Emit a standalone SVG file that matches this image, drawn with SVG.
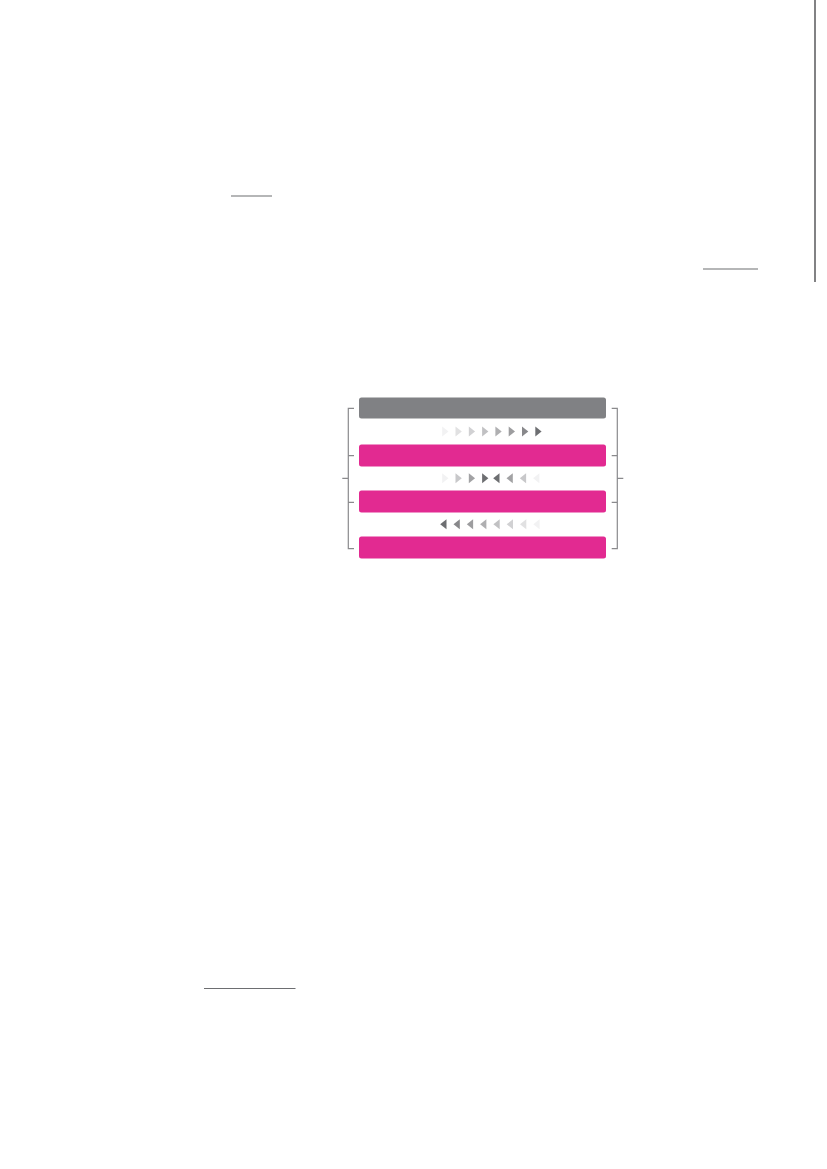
<svg xmlns="http://www.w3.org/2000/svg" xmlns:xlink="http://www.w3.org/1999/xlink" width="827" height="1169" viewBox="0 0 827 1169">
<style>
.rule{stroke:#6d6e71;stroke-width:1.2;fill:none}
.brk{stroke:#8a8a8d;stroke-width:1.2;fill:none}
.bar-gray{fill:#808184}
.bar-pink{fill:#e22a91}
</style>
<defs>
<path id="tr" d="M-0.5,-5 L5.8,0 L-0.5,5 Z"/>
<path id="tl" d="M0.5,-5 L-5.8,0 L0.5,5 Z"/>
</defs>
<rect width="827" height="1169" fill="#ffffff"/>
<g id="page-rules">
<line class="rule" x1="815" y1="0" x2="815" y2="282" style="stroke:#58595b;stroke-width:1.5"/>
<line class="rule" x1="231" y1="196" x2="272" y2="196"/>
<line class="rule" x1="703" y1="269" x2="758" y2="269"/>
<line class="rule" x1="204" y1="988.5" x2="295.5" y2="988.5"/>
</g>
<g id="bar-top"><rect class="bar-gray" x="359" y="397.5" width="247" height="21" rx="2.5"/></g>
<g id="bar-1"><rect class="bar-pink" x="359" y="444.5" width="247" height="22" rx="2.5"/></g>
<g id="bar-2"><rect class="bar-pink" x="359" y="490.5" width="247" height="22" rx="2.5"/></g>
<g id="bar-3"><rect class="bar-pink" x="359" y="536.5" width="247" height="22" rx="2.5"/></g>
<g id="connectors">
<path class="brk" d="M354,408.3 H348.3 V548.7 H354 M348.3,455.7 H354 M348.3,502.3 H354 M348.3,478.3 H342.3"/>
<path class="brk" d="M611.7,408.3 H617.3 V548.7 H611.7 M617.3,455.7 H611.7 M617.3,502.3 H611.7 M617.3,478.3 H623.3"/>
<g id="arrows-row1">
<use href="#tr" x="442.7" y="431.5" fill="#f2f2f3"/>
<use href="#tr" x="456" y="431.5" fill="#e1e1e2"/>
<use href="#tr" x="469.3" y="431.5" fill="#d1d1d3"/>
<use href="#tr" x="482.6" y="431.5" fill="#c1c1c3"/>
<use href="#tr" x="495.9" y="431.5" fill="#afafb1"/>
<use href="#tr" x="509.2" y="431.5" fill="#9d9d9f"/>
<use href="#tr" x="522.5" y="431.5" fill="#88888b"/>
<use href="#tr" x="535.8" y="431.5" fill="#6d6e71"/>
</g>
<g id="arrows-row2">
<use href="#tr" x="442.7" y="478.3" fill="#f2f2f3"/>
<use href="#tr" x="456" y="478.3" fill="#c8c8ca"/>
<use href="#tr" x="469.3" y="478.3" fill="#a2a2a4"/>
<use href="#tr" x="482.6" y="478.3" fill="#6d6e71"/>
<use href="#tl" x="499" y="478.3" fill="#6d6e71"/>
<use href="#tl" x="512.3" y="478.3" fill="#a2a2a4"/>
<use href="#tl" x="525.6" y="478.3" fill="#c8c8ca"/>
<use href="#tl" x="538.9" y="478.3" fill="#f2f2f3"/>
</g>
<g id="arrows-row3">
<use href="#tl" x="446" y="524.3" fill="#6d6e71"/>
<use href="#tl" x="459.3" y="524.3" fill="#88888b"/>
<use href="#tl" x="472.6" y="524.3" fill="#9d9d9f"/>
<use href="#tl" x="485.9" y="524.3" fill="#afafb1"/>
<use href="#tl" x="499.2" y="524.3" fill="#c1c1c3"/>
<use href="#tl" x="512.5" y="524.3" fill="#d1d1d3"/>
<use href="#tl" x="525.8" y="524.3" fill="#e1e1e2"/>
<use href="#tl" x="539.1" y="524.3" fill="#f2f2f3"/>
</g>
</g>
</svg>
